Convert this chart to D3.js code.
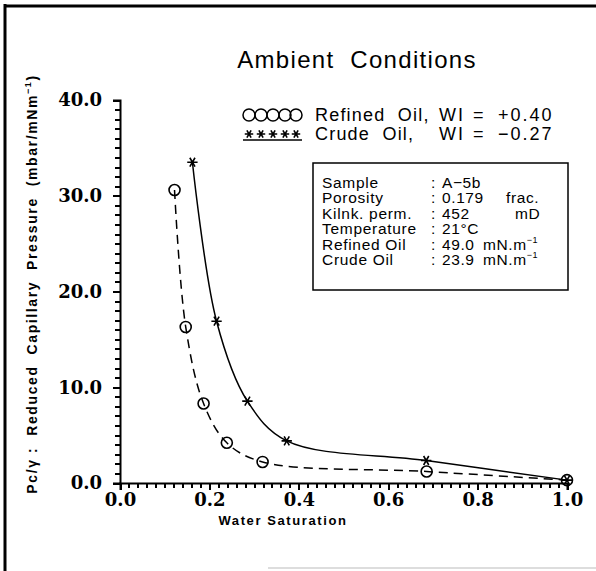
<!DOCTYPE html>
<html>
<head>
<meta charset="utf-8">
<script src="https://cdn.jsdelivr.net/npm/d3@7"></script>
<style>
  body { margin: 0; background: #fff; }
  svg { display: block; }
  .sans { font-family: "Liberation Sans", "DejaVu Sans", sans-serif; }
  .tick text { font-family: "DejaVu Serif", serif; font-weight: bold; font-size: 18px; }
  .tick line { shape-rendering: crispEdges; }
</style>
</head>
<body>
<div id="chart"></div>
<script>
// dades llegides del gràfic
let swRefinat = [0.122, 0.147, 0.187, 0.239, 0.319, 0.686, 1.0]
let pcRefinat = [30.6, 16.3, 8.3, 4.2, 2.2, 1.2, 0.3]
let swCru = [0.162, 0.216, 0.285, 0.373, 0.685, 1.0]
let pcCru = [33.5, 16.9, 8.55, 4.4, 2.35, 0.3]
let xTicks = [0, 0.2, 0.4, 0.6, 0.8, 1.0]
let yTicks = [0, 10, 20, 30, 40]
let titol = 'Ambient  Conditions'
let infoEtiq = ['Sample', 'Porosity', 'Kilnk. perm.', 'Temperature', 'Refined Oil', 'Crude Oil']

let ample = 596
let alt = 571
let svg = d3.select('#chart')
  .append('svg')
  .attr('width', ample)
  .attr('height', alt)

// marc
svg.append('line').attr('x1', 5).attr('y1', 4).attr('x2', 5).attr('y2', alt)
  .attr('stroke', 'black').attr('stroke-width', 3)
svg.append('line').attr('x1', 4).attr('y1', 6).attr('x2', ample).attr('y2', 6)
  .attr('stroke', 'black').attr('stroke-width', 3)
svg.append('line').attr('x1', 268).attr('y1', 568).attr('x2', ample).attr('y2', 568)
  .attr('stroke', '#ddd').attr('stroke-width', 2)

let x = d3.scaleLinear().domain([0, 1]).range([120, 567])
let y = d3.scaleLinear().domain([0, 40]).range([483, 100])

// eixos
let buit = () => ''
let xMenors = d3.range(0, 51).map(i => i * 0.02)
svg.append('g')
  .attr('transform', 'translate(0,483)')
  .call(d3.axisBottom(x).tickValues(xMenors).tickSize(5).tickFormat(buit))
  .call(g => g.select('.domain').remove())
  .call(g => g.selectAll('line').attr('stroke', 'black').attr('stroke-width', 2))
svg.append('g')
  .attr('transform', 'translate(0,483)')
  .call(d3.axisBottom(x).tickValues(xTicks).tickSize(7).tickPadding(3).tickFormat(d3.format('.1f')))
  .call(g => g.select('.domain').attr('stroke', 'black').attr('stroke-width', 2))
  .call(g => g.selectAll('line').attr('stroke', 'black').attr('stroke-width', 2))

let yMenors = d3.range(0, 41)
svg.append('g')
  .attr('transform', 'translate(120,0)')
  .call(d3.axisLeft(y).tickValues(yMenors).tickSize(5).tickFormat(buit))
  .call(g => g.select('.domain').remove())
  .call(g => g.selectAll('line').attr('stroke', 'black').attr('stroke-width', 2))
svg.append('g')
  .attr('transform', 'translate(120,0)')
  .call(d3.axisLeft(y).tickValues(yTicks).tickSize(7).tickPadding(11).tickFormat(d3.format('.1f')))
  .call(g => g.select('.domain').attr('stroke', 'black').attr('stroke-width', 2))
  .call(g => g.selectAll('line').attr('stroke', 'black').attr('stroke-width', 2))

svg.selectAll('.tick text').attr('fill', 'black')

// títols
svg.append('text').attr('class', 'sans')
  .attr('x', 357).attr('y', 68)
  .attr('text-anchor', 'middle')
  .attr('font-size', 24)
  .attr('letter-spacing', 1.3)
  .style('white-space', 'pre')
  .text(titol)

svg.append('text').attr('class', 'sans')
  .attr('x', 283).attr('y', 525)
  .attr('text-anchor', 'middle')
  .attr('font-size', 13)
  .attr('font-weight', 'bold')
  .attr('letter-spacing', 1.6)
  .text('Water Saturation')

let yTitol = svg.append('text').attr('class', 'sans')
  .attr('transform', 'translate(37,284) rotate(-90)')
  .attr('text-anchor', 'middle')
  .attr('font-size', 14)
  .attr('font-weight', 'bold')
  .attr('letter-spacing', 1.6)
  .style('white-space', 'pre')
yTitol.append('tspan').text('Pc/γ :  Reduced  Capillary  Pressure  (mbar/mNm')
yTitol.append('tspan').attr('font-size', 9).attr('dy', -6).text('−1')
yTitol.append('tspan').attr('dy', 6).text(')')

// corbes
let linia = d3.line().curve(d3.curveCatmullRom.alpha(0.5))
  .x(d => x(d[0])).y(d => y(d[1]))

let puntsRef = swRefinat.map((d, i) => [d, pcRefinat[i]])
let puntsCru = swCru.map((d, i) => [d, pcCru[i]])

svg.append('path')
  .attr('d', linia(puntsRef))
  .attr('fill', 'none').attr('stroke', 'black')
  .attr('stroke-width', 1.5).attr('stroke-dasharray', '9,6')

svg.append('path')
  .attr('d', linia(puntsCru))
  .attr('fill', 'none').attr('stroke', 'black')
  .attr('stroke-width', 1.5)

svg.selectAll('circle.ref')
  .data(puntsRef)
  .enter()
  .append('circle')
  .attr('class', 'ref')
  .attr('cx', d => x(d[0]))
  .attr('cy', d => y(d[1]))
  .attr('r', 5.5)
  .attr('fill', 'none').attr('stroke', 'black').attr('stroke-width', 1.6)

let estrella = d3.symbol().type(d3.symbolAsterisk).size(75)
svg.selectAll('path.cru')
  .data(puntsCru)
  .enter()
  .append('path')
  .attr('class', 'cru')
  .attr('d', estrella)
  .attr('transform', d => `translate(${x(d[0])},${y(d[1])}) rotate(90)`)
  .attr('fill', 'none').attr('stroke', 'black').attr('stroke-width', 1.6)

// llegenda
let xsMarca = [249, 261, 273, 285, 296]
svg.selectAll('circle.lleg')
  .data(xsMarca)
  .enter()
  .append('circle')
  .attr('class', 'lleg')
  .attr('cx', d => d).attr('cy', 115).attr('r', 6)
  .attr('fill', 'none').attr('stroke', 'black').attr('stroke-width', 1.5)

svg.append('line').attr('x1', 243).attr('x2', 302).attr('y1', 140).attr('y2', 140)
  .attr('stroke', 'black').attr('stroke-width', 1.5)
svg.selectAll('path.lleg')
  .data(xsMarca)
  .enter()
  .append('path')
  .attr('class', 'lleg')
  .attr('d', d3.symbol().type(d3.symbolAsterisk).size(50))
  .attr('transform', d => `translate(${d},134) rotate(90)`)
  .attr('fill', 'none').attr('stroke', 'black').attr('stroke-width', 1.6)

let llegFiles = [
  ['Refined  Oil,', 'WI', '=', '+0.40', 121],
  ['Crude  Oil,', 'WI', '=', '−0.27', 140]
]
let xsLleg = [315, 439, 473, 498]
llegFiles.forEach(f => {
  f.slice(0, 4).forEach((t, i) => {
    svg.append('text').attr('class', 'sans')
      .attr('x', xsLleg[i]).attr('y', f[4])
      .attr('font-size', 18)
      .attr('letter-spacing', i === 0 ? 1.2 : 2)
      .style('white-space', 'pre')
      .text(t)
  })
})

// quadre d'informació
svg.append('rect')
  .attr('x', 313).attr('y', 163).attr('width', 255).attr('height', 127)
  .attr('fill', 'none').attr('stroke', 'black').attr('stroke-width', 1.5)

let infoVal = [
  ['A−5b', ''],
  ['0.179', 'frac.'],
  ['452', 'mD'],
  ['21°C', ''],
  ['49.0', 'mN.m'],
  ['23.9', 'mN.m']
]
let xsExtra = [0, 506, 515, 0, 483, 483]
infoEtiq.forEach((t, i) => {
  let yy = 188 + i * 15.4
  svg.append('text').attr('class', 'sans')
    .attr('x', 322).attr('y', yy).attr('font-size', 15.5).attr('letter-spacing', 0.7).text(t)
  svg.append('text').attr('class', 'sans')
    .attr('x', 431).attr('y', yy).attr('font-size', 15.5).text(':')
  svg.append('text').attr('class', 'sans')
    .attr('x', 442).attr('y', yy).attr('font-size', 15.5).attr('letter-spacing', 0.6).text(infoVal[i][0])
  if (infoVal[i][1]) {
    let tx = svg.append('text').attr('class', 'sans')
      .attr('x', xsExtra[i]).attr('y', yy).attr('font-size', 15.5).attr('letter-spacing', 0.6)
    tx.append('tspan').text(infoVal[i][1])
    if (i >= 4) tx.append('tspan').attr('font-size', 9).attr('dy', -7).text('−1')
  }
})
</script>
</body>
</html>
